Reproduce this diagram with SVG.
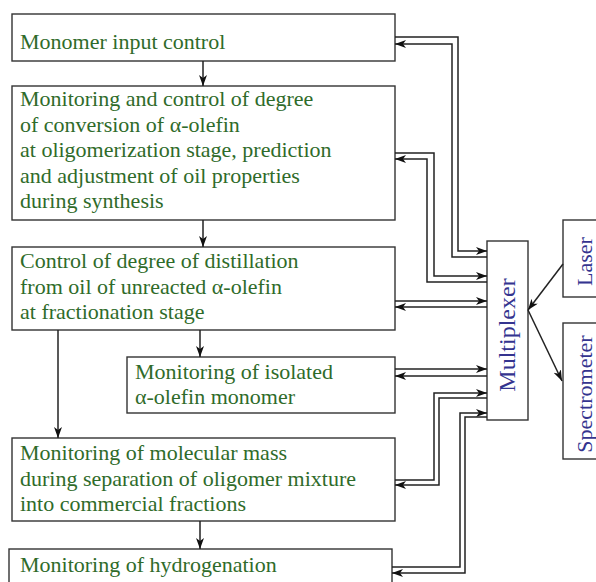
<svg xmlns="http://www.w3.org/2000/svg" width="596" height="582" viewBox="0 0 596 582">
<style>
.box{fill:#fff;stroke:#333;stroke-width:1.4}
.t{font-family:"Liberation Serif","Times New Roman",serif;font-size:22px;fill:#2f6b2a}
.b{font-family:"Liberation Serif","Times New Roman",serif;font-size:22px;fill:#34348f}
.c{fill:none;stroke:#222;stroke-width:1.5}
</style>
<defs>
<marker id="ah" markerUnits="userSpaceOnUse" markerWidth="12" markerHeight="9" refX="11" refY="4" orient="auto">
<path d="M0,0 L11,4 L0,8 L3,4 z" fill="#111"/>
</marker>
</defs>
<g id="n1"><rect class="box" x="12" y="14" width="383" height="47"/>
<text class="t" x="20" y="49">Monomer input control</text></g>
<g id="n2"><rect class="box" x="12" y="86" width="383" height="134"/>
<text class="t"><tspan x="20" y="106">Monitoring and control of degree</tspan><tspan x="20" y="131.5">of conversion of α-olefin</tspan><tspan x="20" y="157">at oligomerization stage, prediction</tspan><tspan x="20" y="182.5">and adjustment of oil properties</tspan><tspan x="20" y="208">during synthesis</tspan></text></g>
<g id="n3"><rect class="box" x="12" y="247" width="383" height="83"/>
<text class="t"><tspan x="20" y="268">Control of degree of distillation</tspan><tspan x="20" y="294">from oil of unreacted α-olefin</tspan><tspan x="20" y="319">at fractionation stage</tspan></text></g>
<g id="n4"><rect class="box" x="127" y="357" width="268" height="56"/>
<text class="t"><tspan x="135" y="379">Monitoring of isolated</tspan><tspan x="135" y="404">α-olefin monomer</tspan></text></g>
<g id="n5"><rect class="box" x="12" y="438" width="383" height="83"/>
<text class="t"><tspan x="20" y="460">Monitoring of molecular mass</tspan><tspan x="20" y="485.5">during separation of oligomer mixture</tspan><tspan x="20" y="511">into commercial fractions</tspan></text></g>
<g id="n6"><rect class="box" x="9" y="549" width="383" height="60"/>
<text class="t" x="20" y="572">Monitoring of hydrogenation</text></g>
<g id="mux"><rect class="box" x="487" y="241" width="41" height="179"/>
<text class="b" style="font-size:24px" transform="translate(515,335) rotate(-90)" text-anchor="middle">Multiplexer</text></g>
<g id="laser"><rect class="box" x="563" y="220" width="40" height="77"/>
<text class="b" transform="translate(592,261.5) rotate(-90)" text-anchor="middle">Laser</text></g>
<g id="spec"><rect class="box" x="563" y="323" width="40" height="136"/>
<text class="b" transform="translate(592,394) rotate(-90)" text-anchor="middle">Spectrometer</text></g>
<g id="connectors" class="c" marker-end="url(#ah)">
<path class="c" d="M203,61 V86"/>
<path class="c" d="M203,220 V247"/>
<path class="c" d="M200,330 V357"/>
<path class="c" d="M58,330 V438"/>
<path class="c" d="M200,521 V549"/>
<path class="c" d="M395,37 H458 V251 H487"/>
<path class="c" d="M487,257 H452 V44 H395"/>
<path class="c" d="M395,153 H434 V276 H487"/>
<path class="c" d="M487,282 H427 V159 H395"/>
<path class="c" d="M395,301 H487"/>
<path class="c" d="M487,307 H395"/>
<path class="c" d="M395,369 H487"/>
<path class="c" d="M487,376 H395"/>
<path class="c" d="M395,480 H434 V393 H487"/>
<path class="c" d="M487,398 H439 V485 H395"/>
<path class="c" d="M392,567 H460 V413 H487"/>
<path class="c" d="M487,417 H465 V573 H392"/>
<path class="c" d="M563,264 L528,310"/>
<path class="c" d="M528,310 L562,381"/>
</g>
</svg>
